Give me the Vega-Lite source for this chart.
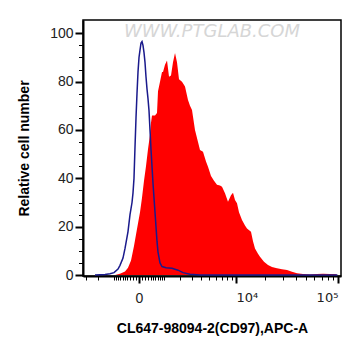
{
  "$schema": "https://vega.github.io/schema/vega-lite/v6.json",
  "autosize": "none",
  "width": 258,
  "height": 256,
  "padding": {"left": 83, "top": 20, "right": 20, "bottom": 80},
  "background": "white",
  "title": {"text": "WWW.PTGLAB.COM", "offset": -21, "anchor": "middle", "frame": "group", "font": "DejaVu Sans", "fontSize": 18, "fontStyle": "italic", "fontWeight": "normal", "color": "#d6d6d6"},
  "config": {"view": {"stroke": "black", "strokeWidth": 1.5}, "font": "Liberation Sans"},
  "data": {"values": [
    {"sample": "CD97", "fluorescence": -962, "count": 0},
    {"sample": "CD97", "fluorescence": -719, "count": 0.5},
    {"sample": "CD97", "fluorescence": -500, "count": 1.5},
    {"sample": "CD97", "fluorescence": -380, "count": 3},
    {"sample": "CD97", "fluorescence": -267, "count": 6},
    {"sample": "CD97", "fluorescence": -162, "count": 12},
    {"sample": "CD97", "fluorescence": -63, "count": 19},
    {"sample": "CD97", "fluorescence": 31, "count": 26},
    {"sample": "CD97", "fluorescence": 95, "count": 32},
    {"sample": "CD97", "fluorescence": 162, "count": 39},
    {"sample": "CD97", "fluorescence": 231, "count": 45},
    {"sample": "CD97", "fluorescence": 304, "count": 52},
    {"sample": "CD97", "fluorescence": 380, "count": 58},
    {"sample": "CD97", "fluorescence": 419, "count": 63},
    {"sample": "CD97", "fluorescence": 459, "count": 66},
    {"sample": "CD97", "fluorescence": 585, "count": 66},
    {"sample": "CD97", "fluorescence": 673, "count": 67},
    {"sample": "CD97", "fluorescence": 719, "count": 76},
    {"sample": "CD97", "fluorescence": 813, "count": 80},
    {"sample": "CD97", "fluorescence": 911, "count": 84},
    {"sample": "CD97", "fluorescence": 962, "count": 84},
    {"sample": "CD97", "fluorescence": 1066, "count": 87},
    {"sample": "CD97", "fluorescence": 1176, "count": 88.7},
    {"sample": "CD97", "fluorescence": 1290, "count": 82},
    {"sample": "CD97", "fluorescence": 1409, "count": 82.5},
    {"sample": "CD97", "fluorescence": 1533, "count": 88},
    {"sample": "CD97", "fluorescence": 1663, "count": 91.8},
    {"sample": "CD97", "fluorescence": 1798, "count": 88},
    {"sample": "CD97", "fluorescence": 1940, "count": 81},
    {"sample": "CD97", "fluorescence": 2163, "count": 80},
    {"sample": "CD97", "fluorescence": 2402, "count": 78},
    {"sample": "CD97", "fluorescence": 2656, "count": 72.4},
    {"sample": "CD97", "fluorescence": 2835, "count": 70},
    {"sample": "CD97", "fluorescence": 3022, "count": 68.3},
    {"sample": "CD97", "fluorescence": 3317, "count": 60},
    {"sample": "CD97", "fluorescence": 3633, "count": 55},
    {"sample": "CD97", "fluorescence": 3854, "count": 51.7},
    {"sample": "CD97", "fluorescence": 4205, "count": 51},
    {"sample": "CD97", "fluorescence": 4579, "count": 47},
    {"sample": "CD97", "fluorescence": 4842, "count": 44.8},
    {"sample": "CD97", "fluorescence": 5259, "count": 41},
    {"sample": "CD97", "fluorescence": 5703, "count": 39},
    {"sample": "CD97", "fluorescence": 6176, "count": 37.3},
    {"sample": "CD97", "fluorescence": 6681, "count": 37},
    {"sample": "CD97", "fluorescence": 7037, "count": 36.5},
    {"sample": "CD97", "fluorescence": 7599, "count": 33.8},
    {"sample": "CD97", "fluorescence": 8198, "count": 30.3},
    {"sample": "CD97", "fluorescence": 8837, "count": 33},
    {"sample": "CD97", "fluorescence": 9287, "count": 34},
    {"sample": "CD97", "fluorescence": 9756, "count": 31},
    {"sample": "CD97", "fluorescence": 10246, "count": 29.7},
    {"sample": "CD97", "fluorescence": 10757, "count": 26},
    {"sample": "CD97", "fluorescence": 11566, "count": 22.8},
    {"sample": "CD97", "fluorescence": 12429, "count": 20.5},
    {"sample": "CD97", "fluorescence": 13036, "count": 19.3},
    {"sample": "CD97", "fluorescence": 14330, "count": 17.9},
    {"sample": "CD97", "fluorescence": 15020, "count": 14},
    {"sample": "CD97", "fluorescence": 15740, "count": 11},
    {"sample": "CD97", "fluorescence": 16881, "count": 8.8},
    {"sample": "CD97", "fluorescence": 17682, "count": 7.6},
    {"sample": "CD97", "fluorescence": 19392, "count": 5.5},
    {"sample": "CD97", "fluorescence": 21255, "count": 4.1},
    {"sample": "CD97", "fluorescence": 23286, "count": 3.3},
    {"sample": "CD97", "fluorescence": 26081, "count": 2.8},
    {"sample": "CD97", "fluorescence": 29193, "count": 2.4},
    {"sample": "CD97", "fluorescence": 32656, "count": 2.1},
    {"sample": "CD97", "fluorescence": 36512, "count": 1.4},
    {"sample": "CD97", "fluorescence": 40802, "count": 0.7},
    {"sample": "CD97", "fluorescence": 46597, "count": 0.4},
    {"sample": "CD97", "fluorescence": 54372, "count": 0.2},
    {"sample": "CD97", "fluorescence": 63403, "count": 0.4},
    {"sample": "CD97", "fluorescence": 72299, "count": 0.5},
    {"sample": "CD97", "fluorescence": 83690, "count": 0.4},
    {"sample": "CD97", "fluorescence": 96843, "count": 0.3},
    {"sample": "Control", "fluorescence": -2240, "count": 0},
    {"sample": "Control", "fluorescence": -1533, "count": 0.2},
    {"sample": "Control", "fluorescence": -1232, "count": 0.5},
    {"sample": "Control", "fluorescence": -1013, "count": 1},
    {"sample": "Control", "fluorescence": -813, "count": 2.5},
    {"sample": "Control", "fluorescence": -719, "count": 4},
    {"sample": "Control", "fluorescence": -585, "count": 7},
    {"sample": "Control", "fluorescence": -500, "count": 11},
    {"sample": "Control", "fluorescence": -380, "count": 18},
    {"sample": "Control", "fluorescence": -304, "count": 25},
    {"sample": "Control", "fluorescence": -231, "count": 30},
    {"sample": "Control", "fluorescence": -196, "count": 34},
    {"sample": "Control", "fluorescence": -162, "count": 40},
    {"sample": "Control", "fluorescence": -128, "count": 53},
    {"sample": "Control", "fluorescence": -95, "count": 65},
    {"sample": "Control", "fluorescence": -63, "count": 75},
    {"sample": "Control", "fluorescence": -31, "count": 84},
    {"sample": "Control", "fluorescence": 0, "count": 90},
    {"sample": "Control", "fluorescence": 31, "count": 93},
    {"sample": "Control", "fluorescence": 63, "count": 96},
    {"sample": "Control", "fluorescence": 95, "count": 96.6},
    {"sample": "Control", "fluorescence": 128, "count": 95},
    {"sample": "Control", "fluorescence": 162, "count": 92},
    {"sample": "Control", "fluorescence": 196, "count": 88},
    {"sample": "Control", "fluorescence": 231, "count": 82},
    {"sample": "Control", "fluorescence": 267, "count": 77},
    {"sample": "Control", "fluorescence": 304, "count": 73},
    {"sample": "Control", "fluorescence": 342, "count": 68},
    {"sample": "Control", "fluorescence": 380, "count": 60},
    {"sample": "Control", "fluorescence": 419, "count": 52},
    {"sample": "Control", "fluorescence": 459, "count": 45},
    {"sample": "Control", "fluorescence": 500, "count": 38},
    {"sample": "Control", "fluorescence": 585, "count": 26},
    {"sample": "Control", "fluorescence": 673, "count": 14},
    {"sample": "Control", "fluorescence": 719, "count": 9.5},
    {"sample": "Control", "fluorescence": 813, "count": 5},
    {"sample": "Control", "fluorescence": 911, "count": 3.5},
    {"sample": "Control", "fluorescence": 1120, "count": 3},
    {"sample": "Control", "fluorescence": 1470, "count": 2.8},
    {"sample": "Control", "fluorescence": 1868, "count": 2},
    {"sample": "Control", "fluorescence": 2240, "count": 1},
    {"sample": "Control", "fluorescence": 2835, "count": 0.3},
    {"sample": "Control", "fluorescence": 3854, "count": 0},
    {"sample": "Control", "fluorescence": 6681, "count": 0},
    {"sample": "Control", "fluorescence": 17682, "count": 0},
    {"sample": "Control", "fluorescence": 43605, "count": 0},
    {"sample": "Control", "fluorescence": 98972, "count": 0}
  ]},
  "encoding": {
    "x": {
      "field": "fluorescence", "type": "quantitative",
      "title": "CL647-98094-2(CD97),APC-A",
      "scale": {"type": "symlog", "constant": 1430, "domain": [-3318, 107000], "nice": false, "zero": false},
      "axis": {
        "values": [-3000, -2000, -1000, -900, -800, -700, -600, -500, -400, -300, -200, -100, 0, 100, 200, 300, 400, 500, 600, 700, 800, 900, 1000, 2000, 3000, 4000, 5000, 6000, 7000, 8000, 9000, 10000, 20000, 30000, 40000, 50000, 60000, 70000, 80000, 90000, 100000],
        "labelExpr": "datum.value === 0 ? '0' : datum.value === 10000 ? '10⁴' : datum.value === 100000 ? '10⁵' : ''",
        "labelOverlap": false, "labelFlush": false, "labelBound": false,
        "labelAlign": {"condition": [{"test": "datum.value === 10000", "value": "left"}, {"test": "datum.value === 100000", "value": "right"}], "value": "center"},
        "labelFont": {"condition": {"test": "datum.value === 10000 || datum.value === 100000", "value": "DejaVu Sans"}, "value": "Liberation Sans"},
        "labelFontSize": {"condition": {"test": "datum.value === 10000 || datum.value === 100000", "value": 13}, "value": 14},
        "labelPadding": 8,
        "grid": false,
        "domainColor": "black", "domainWidth": 2,
        "tickColor": "black",
        "tickSize": {"condition": {"test": "datum.value === 0 || datum.value === 10000 || datum.value === 100000", "value": 7}, "value": 4},
        "tickWidth": {"condition": {"test": "datum.value === 0 || datum.value === 10000 || datum.value === 100000", "value": 2}, "value": 1},
        "labelColor": "#222222",
        "titleFont": "Liberation Sans", "titleFontSize": 14, "titleFontWeight": "bold", "titleColor": "black", "titlePadding": 16
      }
    },
    "y": {
      "field": "count", "type": "quantitative",
      "title": "Relative cell number",
      "scale": {"domain": [-0.4, 105.5], "nice": false, "zero": false},
      "axis": {
        "values": [0, 5, 10, 15, 20, 25, 30, 35, 40, 45, 50, 55, 60, 65, 70, 75, 80, 85, 90, 95, 100],
        "labelExpr": "datum.value % 20 === 0 ? datum.label : ''",
        "labelOverlap": false, "labelFlush": false, "labelBound": false,
        "grid": false,
        "domainColor": "black", "domainWidth": 2,
        "tickColor": "black",
        "tickSize": {"condition": {"test": "datum.value % 20 === 0", "value": 8}, "value": 4.5},
        "tickWidth": {"condition": {"test": "datum.value % 20 === 0", "value": 2}, "value": 1},
        "labelFont": "Liberation Sans", "labelFontSize": 14, "labelColor": "#222222", "labelPadding": 2,
        "titleFont": "Liberation Sans", "titleFontSize": 14, "titleFontWeight": "bold", "titleColor": "black", "titlePadding": 18
      }
    }
  },
  "layer": [
    {
      "transform": [{"filter": "datum.sample === 'CD97'"}],
      "mark": {"type": "area", "color": "#ff0000", "clip": true, "opacity": 1}
    },
    {
      "transform": [{"filter": "datum.sample === 'Control'"}],
      "mark": {"type": "line", "color": "#1a1a8c", "strokeWidth": 1.5, "clip": true}
    }
  ]
}
